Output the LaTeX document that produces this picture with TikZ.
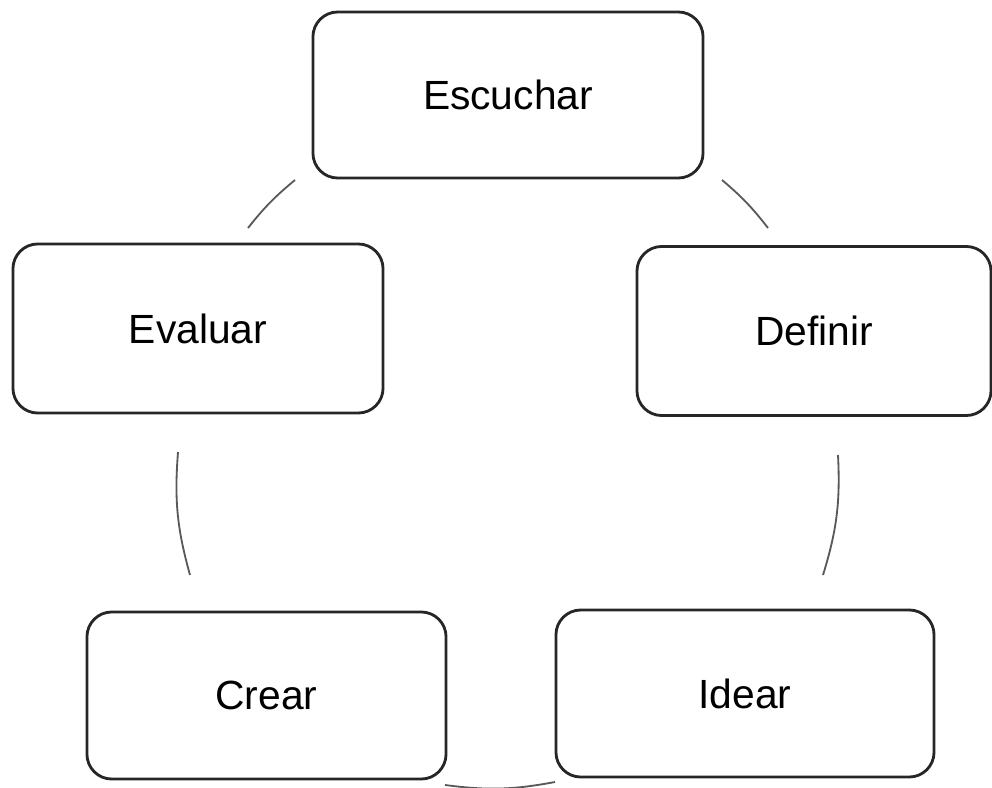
\documentclass[tikz,border=0pt]{standalone}
\usepackage{fontspec}
\setmainfont{Liberation Sans}
\usetikzlibrary{positioning}
\tikzset{
    etapa/.style={
        draw=black!85,
        line width=2pt,
        rounded corners=0.62cm,
        inner sep=0pt,
        font=\fontsize{29}{34}\selectfont
    },
    enlace/.style={
        draw=black!65,
        line width=1.3pt
    }
}

\begin{document}
\begin{tikzpicture}[
    x=0.025cm,
    y=-0.025cm
]
    \useasboundingbox (0,0) rectangle (992,788);

    % Etapas
    \node[etapa, minimum width=9.75cm,  minimum height=4.15cm]  (esc) at (508,95)    {Escuchar};
    \node[etapa, minimum width=8.85cm,  minimum height=4.225cm] (def) at (814,331)   {Definir};
    \node[etapa, minimum width=9.45cm,  minimum height=4.175cm] (ide) at (745,693.5) {Idear};
    \node[etapa, minimum width=8.975cm, minimum height=4.175cm] (cre) at (266.5,695.5) {Crear};
    \node[etapa, minimum width=9.25cm,  minimum height=4.225cm] (eva) at (198,328.5) {Evaluar};

    % Extremos de los arcos
    \coordinate (esc-def-a) at (722,180);
    \coordinate (esc-def-b) at (768,228);
    \coordinate (def-ide-a) at (838,455);
    \coordinate (def-ide-b) at (823,575);
    \coordinate (ide-cre-a) at (555,782);
    \coordinate (ide-cre-b) at (445,785);
    \coordinate (cre-eva-a) at (190,575);
    \coordinate (cre-eva-b) at (178,452);
    \coordinate (eva-esc-a) at (248,228);
    \coordinate (eva-esc-b) at (295,180);

    % Ciclo
    \path[enlace]
        (esc-def-a) edge[bend left=6]  (esc-def-b)
        (def-ide-a) edge[bend left=10] (def-ide-b)
        (ide-cre-a) edge[bend left=9]  (ide-cre-b)
        (cre-eva-a) edge[bend left=10] (cre-eva-b)
        (eva-esc-a) edge[bend left=6]  (eva-esc-b);

\end{tikzpicture}
\end{document}
